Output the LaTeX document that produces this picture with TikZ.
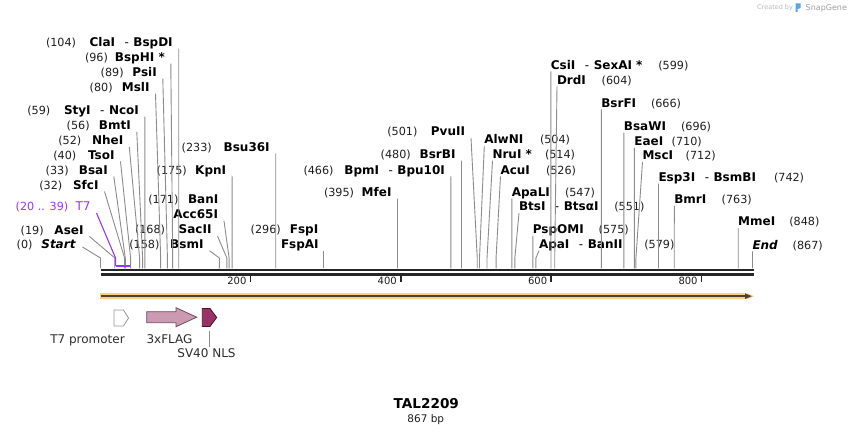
\documentclass[tikz,border=0pt]{standalone}
\usepackage{fontspec}
\setmainfont{DejaVu Sans}
\usetikzlibrary{calc}
\definecolor{lineg}{RGB}{140,140,140}
\definecolor{seqc}{RGB}{38,38,38}
\definecolor{numc}{RGB}{30,30,30}
\definecolor{featc}{RGB}{45,45,45}
\definecolor{t7c}{RGB}{153,51,255}
\definecolor{bandc}{RGB}{252,208,130}
\definecolor{bandline}{RGB}{77,64,51}
\definecolor{flagc}{RGB}{204,153,179}
\definecolor{flagd}{RGB}{110,75,95}
\definecolor{nlsc}{RGB}{153,51,102}
\definecolor{nlsd}{RGB}{70,20,45}
\definecolor{logoc}{RGB}{90,165,230}
\tikzset{
  nm/.style={inner sep=0pt,outer sep=0pt,font=\fontsize{12}{14}\selectfont\bfseries},
  num/.style={inner sep=0pt,outer sep=0pt,font=\fontsize{11.2}{13}\selectfont,text=numc},
  cut/.style={draw=lineg,line width=0.9pt},
  feat/.style={inner sep=0pt,outer sep=0pt,font=\fontsize{12}{14}\selectfont,text=featc},
}
\newcommand{\dsh}{\hspace{9.5pt}\textmd{-}\hspace{4.5pt}}
\begin{document}
\begin{tikzpicture}[x=1pt,y=-1pt]
\useasboundingbox (0,0) rectangle (854,435);
\foreach \p in {0,19,20,32,33,39,40,52,56,59,80,89,96,104,158,168,171,175,233,296,395,466,480,501,504,514,526,547,551,575,579,599,604,666,696,710,712,742,763,848,867}{
  \coordinate (s\p) at ({100.5+0.752*\p},268.5);
  \coordinate (k\p) at ({100.5+0.752*\p},258);
}
% ---------- left labels
\node[num,anchor=base west] (n104) at (46,46.7) {(104)};
\node[nm,anchor=base east] (L104) at (172.7,46.7) {ClaI\dsh BspDI};
\node[num,anchor=base west] (n96) at (85,61.7) {(96)};
\node[nm,anchor=base east] (L96) at (164.8,61.7) {BspHI *};
\node[num,anchor=base west] (n89) at (100.7,76.7) {(89)};
\node[nm,anchor=base east] (L89) at (156.8,76.7) {PsiI};
\node[num,anchor=base west] (n80) at (89.7,91.7) {(80)};
\node[nm,anchor=base east] (L80) at (149.5,91.7) {MslI};
\node[num,anchor=base west] (n59) at (27.3,114.7) {(59)};
\node[nm,anchor=base east] (L59) at (138.9,114.7) {StyI\dsh NcoI};
\node[num,anchor=base west] (n56) at (66.7,130) {(56)};
\node[nm,anchor=base east] (L56) at (130.8,130) {BmtI};
\node[num,anchor=base west] (n52) at (58.3,145) {(52)};
\node[nm,anchor=base east] (L52) at (123.3,145) {NheI};
\node[num,anchor=base west] (n40) at (53.3,159.5) {(40)};
\node[nm,anchor=base east] (L40) at (114.5,159.5) {TsoI};
\node[num,anchor=base west] (n33) at (45.7,174.5) {(33)};
\node[nm,anchor=base east] (L33) at (107.8,174.5) {BsaI};
\node[num,anchor=base west] (n32) at (39.3,189.5) {(32)};
\node[nm,anchor=base east] (L32) at (98.5,189.5) {SfcI};
\node[num,anchor=base west,text=t7c] (n20) at (15.7,211) {(20 .. 39)};
\node[nm,anchor=base east,text=t7c,font=\fontsize{12}{14}\selectfont] (L20) at (90.5,211) {T7};
\node[num,anchor=base west] (n19) at (20.7,234.5) {(19)};
\node[nm,anchor=base east] (L19) at (83.5,234.5) {AseI};
\node[num,anchor=base west] (n0) at (16.7,249) {(0)};
\node[nm,anchor=base east] (L0) at (75.5,249) {\itshape Start};
% ---------- middle-left labels
\node[num,anchor=base west] (n233) at (181.7,151.5) {(233)};
\node[nm,anchor=base east] (L233) at (269.7,151.5) {Bsu36I};
\node[num,anchor=base west] (n175) at (156.7,174.3) {(175)};
\node[nm,anchor=base east] (L175) at (226.1,174.3) {KpnI};
\node[num,anchor=base west] (n171) at (148.3,204) {(171)};
\node[nm,anchor=base east] (Lban) at (218.3,204) {BanI};
\node[nm,anchor=base east] (L171) at (218,219) {Acc65I};
\node[num,anchor=base west] (n168) at (135,234) {(168)};
\node[nm,anchor=base east] (L168) at (211.5,234) {SacII};
\node[num,anchor=base west] (n158) at (129.3,248.7) {(158)};
\node[nm,anchor=base east] (L158) at (203.5,248.7) {BsmI};
\node[num,anchor=base west] (n296) at (250.7,233.7) {(296)};
\node[nm,anchor=base east] (Lfsp) at (318.3,233.7) {FspI};
\node[nm,anchor=base west] (L296) at (281,248.7) {FspAI};
\node[num,anchor=base west] (n501) at (387.3,136) {(501)};
\node[nm,anchor=base east] (L501) at (465,136) {PvuII};
\node[num,anchor=base west] (n480) at (380.7,158.7) {(480)};
\node[nm,anchor=base east] (L480) at (455.5,158.7) {BsrBI};
\node[num,anchor=base west] (n466) at (303.5,174.3) {(466)};
\node[nm,anchor=base east] (L466) at (444.9,174.3) {BpmI\dsh Bpu10I};
\node[num,anchor=base west] (n395) at (324,196.7) {(395)};
\node[nm,anchor=base east] (L395) at (391.5,196.7) {MfeI};
% ---------- right labels
\node[nm,anchor=base west] (L504) at (484.3,144) {AlwNI};
\node[num,anchor=base west] (n504) at (540,144) {(504)};
\node[nm,anchor=base west] (L514) at (492.5,158.7) {NruI *};
\node[num,anchor=base west] (n514) at (545,158.7) {(514)};
\node[nm,anchor=base west] (L526) at (500.5,174.3) {AcuI};
\node[num,anchor=base west] (n526) at (546,174.3) {(526)};
\node[nm,anchor=base west] (L547) at (511.8,196.7) {ApaLI};
\node[num,anchor=base west] (n547) at (565,196.7) {(547)};
\node[nm,anchor=base west] (L551) at (519,211) {BtsI\dsh BtsαI};
\node[num,anchor=base west] (n551) at (614.3,211) {(551)};
\node[nm,anchor=base west] (L575) at (532.9,233.7) {PspOMI};
\node[num,anchor=base west] (n575) at (598.7,233.7) {(575)};
\node[nm,anchor=base west] (L579) at (539,248.7) {ApaI\dsh BanII};
\node[num,anchor=base west] (n579) at (644.3,248.7) {(579)};
\node[nm,anchor=base west] (L599) at (550.9,69.3) {CsiI\dsh SexAI *};
\node[num,anchor=base west] (n599) at (658.3,69.3) {(599)};
\node[nm,anchor=base west] (L604) at (557,84.3) {DrdI};
\node[num,anchor=base west] (n604) at (601.7,84.3) {(604)};
\node[nm,anchor=base west] (L666) at (601.3,107.3) {BsrFI};
\node[num,anchor=base west] (n666) at (651,107.3) {(666)};
\node[nm,anchor=base west] (L696) at (623.9,130.7) {BsaWI};
\node[num,anchor=base west] (n696) at (681,130.7) {(696)};
\node[nm,anchor=base west] (L710) at (634.4,146) {EaeI};
\node[num,anchor=base west] (n710) at (671.7,146) {(710)};
\node[nm,anchor=base west] (L712) at (642.5,160) {MscI};
\node[num,anchor=base west] (n712) at (685.7,160) {(712)};
\node[nm,anchor=base west] (L742) at (658.5,181.7) {Esp3I\dsh BsmBI};
\node[num,anchor=base west] (n742) at (774,181.7) {(742)};
\node[nm,anchor=base west] (L763) at (674.3,204) {BmrI};
\node[num,anchor=base west] (n763) at (721.7,204) {(763)};
\node[nm,anchor=base west] (L848) at (738.2,226) {MmeI};
\node[num,anchor=base west] (n848) at (789.3,226) {(848)};
\node[nm,anchor=base west] (L867) at (752.5,249.3) {\itshape End};
\node[num,anchor=base west] (n867) at (792.7,249.3) {(867)};
% ---------- connectors
\foreach \p in {104,96,89,80,59,56,52,40,33,32,19,233,175,171,168,158,501,480,466,395}
  \draw[cut] ([shift={(6,2)}]L\p.base east) -- (k\p) -- (s\p);
\draw[cut] ([shift={(7,-2)}]L0.base east) -- (k0) -- (s0);
\foreach \p in {504,514,526,547,551,575,579,599,604,666,696,710,712,742,763,848,867}
  \draw[cut] ([shift={(0,2)}]L\p.base west) -- (k\p) -- (s\p);
\draw[cut] (s296 |- L296.south) -- (s296);
\coordinate (t7a) at ({100.5+0.752*20},266);
\coordinate (t7b) at ({100.5+0.752*39},266);
\draw[t7c,line width=1.1pt] ([shift={(6,2)}]L20.base east) -- (k20) -- (t7a);
\draw[t7c,line width=2pt] (t7a) -- (t7b);
% ---------- backbone
\draw[seqc,line width=2.4pt] (100.5,270) -- (753.5,270);
\draw[seqc,line width=2.4pt] (100.5,274.6) -- (753.5,274.6);
\foreach \t in {200,400,600,800}{
  \draw[seqc,line width=1.5pt] ({100+0.752*\t},275) -- ({100+0.752*\t},282.5);
  \node[num,font=\fontsize{10}{12}\selectfont,anchor=base east] (tk\t) at ({96+0.752*\t},285) {\t};
}
% ---------- full-length feature
\fill[bandc] (100,293.2) -- (747,293.2) -- (754,296.2) -- (747,299.2) -- (100,299.2) -- cycle;
\draw[bandline,line width=1.8pt] (100.5,296.2) -- (747,296.2);
\fill[bandline] (745,293.4) -- (751.8,296.2) -- (745,299) -- cycle;
% ---------- features
\draw[draw=gray!80,fill=white,line width=0.8pt] (114,310) -- (123.5,310) -- (128.5,318) -- (123.5,326) -- (114,326) -- cycle;
\draw[draw=flagd,fill=flagc,line width=0.8pt] (146.7,311.7) -- (176,311.7) -- (176,307.7) -- (196.7,317.2) -- (176,326.7) -- (176,322.7) -- (146.7,322.7) -- cycle;
\draw[draw=nlsd,fill=nlsc,line width=0.8pt] (202.3,308.5) -- (210,308.5) -- (216.7,317.5) -- (210,326.5) -- (202.3,326.5) -- cycle;
\node[feat,anchor=base] (Lt7p) at (87.5,343.3) {T7 promoter};
\node[feat,anchor=base] (Lflag) at (169.5,343.3) {3xFLAG};
\node[feat,anchor=base] (Lnls) at (206.5,357.8) {SV40 NLS};
\coordinate (nlsb) at (209.5,331.5);
\draw[lineg,line width=0.8pt] (nlsb) -- ([yshift=2pt]nlsb |- Lnls.north);
% ---------- title
\node[inner sep=0pt,font=\fontsize{13.6}{15}\selectfont\bfseries,anchor=base] (title) at (426.3,408.5) {TAL2209};
\node[inner sep=0pt,font=\fontsize{10.5}{12}\selectfont,text=numc,anchor=base] (bp) at (425.8,422.5) {867 bp};
% ---------- credit
\node[inner sep=0pt,font=\fontsize{6.5}{8}\selectfont,text=gray!55,anchor=base west] (cby) at (757,9.8) {Created by};
\fill[logoc] (795.5,3.5) -- (800.5,3.5) -- (800.5,8) -- (797.6,9) -- (797.6,12) -- (795.5,12) -- cycle;
\node[inner sep=0pt,font=\fontsize{8}{10}\selectfont,text=gray!75,anchor=base west] (sg) at (805.5,10.3) {SnapGene};
\end{tikzpicture}
\end{document}
